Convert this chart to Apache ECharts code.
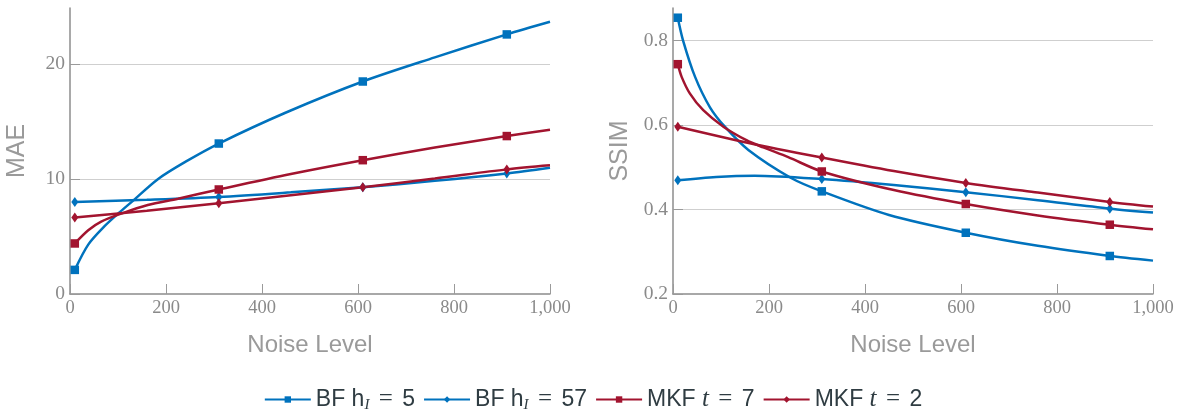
<!DOCTYPE html>
<html>
<head>
<meta charset="utf-8">
<script src="https://cdn.jsdelivr.net/npm/echarts@6/dist/echarts.min.js"></script>
<style>
  html, body { margin: 0; padding: 0; background: #fff; }
  #main { width: 1186px; height: 412px; }
</style>
</head>
<body>
<div id="main"></div>
<script>
// noise levels where the measurements were taken (markers)
const measuredNoise = [10, 310, 610, 910]

// MAE panel, fitted curves
const maeBf5X = [10, 38, 72, 103, 128, 183, 240, 310, 450, 610, 760, 910, 1000]
const maeBf5Y = [2.1, 4.3, 5.9, 7.1, 8.0, 10.0, 11.5, 13.1, 15.8, 18.5, 20.6, 22.6, 23.7]
const maeBf57X = [10, 160, 310, 460, 610, 760, 910, 1000]
const maeBf57Y = [8.0, 8.2, 8.45, 8.85, 9.3, 9.85, 10.5, 11.0]
const maeMkf7X = [10, 38, 65, 107, 162, 225, 310, 460, 610, 760, 910, 1000]
const maeMkf7Y = [4.4, 5.55, 6.3, 7.0, 7.75, 8.3, 9.1, 10.45, 11.65, 12.75, 13.75, 14.3]
const maeMkf2X = [10, 160, 310, 460, 610, 760, 910, 1000]
const maeMkf2Y = [6.65, 7.25, 7.9, 8.6, 9.3, 10.05, 10.85, 11.2]

// SSIM panel
const ssimBf5X = [10, 21, 46, 77, 108, 157, 247, 310, 450, 610, 760, 910, 1000]
const ssimBf5Y = [0.854, 0.80, 0.714, 0.642, 0.596, 0.541, 0.474, 0.443, 0.387, 0.345, 0.314, 0.29, 0.279]
const ssimBf57X = [10, 90, 170, 310, 460, 610, 760, 910, 1000]
const ssimBf57Y = [0.469, 0.477, 0.48, 0.472, 0.458, 0.441, 0.422, 0.402, 0.393]
const ssimMkf7X = [10, 18, 35, 63, 105, 153, 188, 240, 310, 460, 610, 760, 910, 1000]
const ssimMkf7Y = [0.744, 0.714, 0.675, 0.635, 0.596, 0.564, 0.547, 0.524, 0.49, 0.446, 0.413, 0.386, 0.364, 0.353]
const ssimMkf2X = [10, 160, 310, 460, 610, 760, 910, 1000]
const ssimMkf2Y = [0.596, 0.557, 0.523, 0.491, 0.463, 0.44, 0.418, 0.407]

const seriesNames = ['BF h_I = 5', 'BF h_I = 57', 'MKF t = 7', 'MKF t = 2']
const legendLabels = ['BF h{sub|I} {eq|=} 5', 'BF h{sub|I} {eq|=} 57', 'MKF {it|t} {eq|=} 7', 'MKF {it|t} {eq|=} 2']

const BLUE = '#0072BD'
const RED = '#A2142F'
const TXT = '#2f3c42'

function makeSeries(name, xs, ys, color, symbol, size, axisIdx) {
    return {
        name: name,
        type: 'line',
        xAxisIndex: axisIdx,
        yAxisIndex: axisIdx,
        smooth: 0.3,
        symbol: symbol,
        symbolSize: size,
        color: color,
        lineStyle: { width: 2.5, color: color },
        itemStyle: { color: color },
        emphasis: { disabled: true },
        data: xs.map((x, i) => {
            let item = { value: [x, ys[i]] }
            if (measuredNoise.indexOf(x) < 0) item.symbol = 'none'
            return item
        })
    }
}

function xAxisCfg(gridIdx) {
    return {
        type: 'value',
        gridIndex: gridIdx,
        min: 0,
        max: 1000,
        interval: 200,
        name: 'Noise Level',
        nameLocation: 'middle',
        nameGap: 39,
        nameTextStyle: { fontFamily: 'Liberation Sans', fontSize: 24, color: '#9a9a9a' },
        axisLine: { lineStyle: { color: '#8c8c8c', width: 1.5 } },
        axisTick: { inside: true, length: 10, lineStyle: { color: '#9a9a9a' } },
        axisLabel: {
            fontFamily: 'Liberation Serif', fontSize: 18.5, color: '#8a8a8a', margin: 5,
            formatter: v => v >= 1000 ? '1,000' : String(v)
        },
        splitLine: { show: false }
    }
}

function yAxisCfg(gridIdx, name, min, max, interval, gap, fmt) {
    return {
        type: 'value',
        gridIndex: gridIdx,
        min: min,
        max: max,
        interval: interval,
        name: name,
        nameLocation: 'middle',
        nameGap: gap,
        nameTextStyle: { fontFamily: 'Liberation Sans', fontSize: 25, color: '#9a9a9a' },
        axisLine: { show: true, lineStyle: { color: '#8c8c8c', width: 1.5 } },
        axisTick: { show: true, inside: true, length: 10, lineStyle: { color: '#9a9a9a' } },
        axisLabel: {
            fontFamily: 'Liberation Serif', fontSize: 19.5, color: '#8a8a8a', margin: 5,
            showMaxLabel: false,
            formatter: fmt
        },
        splitLine: { show: true, showMaxLine: false, showMinLine: false, lineStyle: { color: '#cfcfcf', width: 1 } }
    }
}

const chart = echarts.init(document.getElementById('main'))
chart.setOption({
    animation: false,
    backgroundColor: '#fff',
    grid: [
        { left: 70, right: 636, top: 8, bottom: 118 },
        { left: 673, right: 33, top: 8, bottom: 118 }
    ],
    legend: {
        data: seriesNames,
        top: 382,
        left: 'center',
        itemWidth: 46,
        itemHeight: 8,
        itemGap: 8,
        textStyle: {
            fontFamily: 'Liberation Sans', fontSize: 23, color: TXT,
            rich: {
                sub: { fontFamily: 'Liberation Serif', fontStyle: 'italic', fontSize: 15, color: TXT, verticalAlign: 'bottom', padding: [12, 0, 0, 0] },
                it: { fontFamily: 'Liberation Serif', fontStyle: 'italic', fontSize: 25, color: TXT },
                eq: { fontFamily: 'Liberation Serif', fontSize: 25, color: TXT, padding: [0, 3, 0, 3] }
            }
        },
        formatter: name => legendLabels[seriesNames.indexOf(name)]
    },
    xAxis: [xAxisCfg(0), xAxisCfg(1)],
    yAxis: [
        yAxisCfg(0, 'MAE', 0, 24.9, 10, 40, v => (Math.abs(v % 10) < 1e-6 ? String(v) : '')),
        yAxisCfg(1, 'SSIM', 0.2, 0.877, 0.2, 40, v => {
            let r = Math.round(v * 10) / 10
            return Math.abs(r - v) < 1e-6 ? r.toFixed(1) : ''
        })
    ],
    series: [
        makeSeries(seriesNames[0], maeBf5X, maeBf5Y, BLUE, 'rect', 8.5, 0),
        makeSeries(seriesNames[1], maeBf57X, maeBf57Y, BLUE, 'diamond', [7, 10], 0),
        makeSeries(seriesNames[2], maeMkf7X, maeMkf7Y, RED, 'rect', 8.5, 0),
        makeSeries(seriesNames[3], maeMkf2X, maeMkf2Y, RED, 'diamond', [7, 10], 0),
        makeSeries(seriesNames[0], ssimBf5X, ssimBf5Y, BLUE, 'rect', 8.5, 1),
        makeSeries(seriesNames[1], ssimBf57X, ssimBf57Y, BLUE, 'diamond', [7, 10], 1),
        makeSeries(seriesNames[2], ssimMkf7X, ssimMkf7Y, RED, 'rect', 8.5, 1),
        makeSeries(seriesNames[3], ssimMkf2X, ssimMkf2Y, RED, 'diamond', [7, 10], 1)
    ]
})
</script>
</body>
</html>
